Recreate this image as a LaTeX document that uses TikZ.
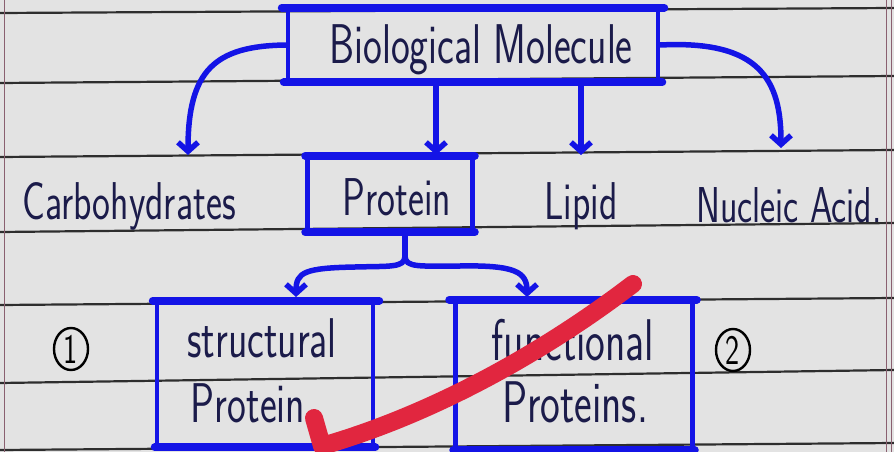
\documentclass[tikz,border=0pt]{standalone}
\usetikzlibrary{arrows.meta,shapes.geometric}
\definecolor{paper}{HTML}{E3E3E3}
\definecolor{rulec}{HTML}{2E2E2E}
\definecolor{ink}{HTML}{1B1B4A}
\definecolor{pen}{HTML}{1414E6}
\definecolor{markc}{HTML}{E1263F}
\definecolor{marginc}{HTML}{8A6070}
\newcommand{\hw}[2]{\scalebox{1}[1.4]{\fontsize{#1}{#1}\selectfont #2}}
\begin{document}
\begin{tikzpicture}[x=1pt,y=-1pt,
  box/.style={draw=pen, line width=4.5pt, inner sep=0pt},
  hand/.style={text=ink, font=\sffamily, inner sep=0pt},
  conn/.style={draw=pen, line width=5.5pt, line cap=round, -{Straight Barb[length=9pt,width=20pt]}},
  stem/.style={draw=pen, line width=5.5pt, line cap=round},
  edge/.style={draw=pen, line width=8pt, line cap=round},
  rl/.style={draw=rulec, line width=2.2pt},
  num/.style={text=black, inner sep=0pt, font=\sffamily},
  ring/.style={draw=black, line width=2.4pt}]
\useasboundingbox (0,0) rectangle (894,452);
\fill[paper] (0,0) rectangle (894,452);
% ruled lines
\draw[rl] (0,13) -- (894,8);
\draw[rl] (0,83) -- (894,76);
\draw[rl] (0,157) -- (894,150);
\draw[rl] (0,232) -- (894,223);
\draw[rl] (0,305) -- (894,298);
\draw[rl] (0,383) -- (894,370);
\draw[rl] (0,450) -- (894,443);
\draw[marginc, line width=1pt] (4,0) -- (4,452);
\draw[marginc, line width=1pt] (886,0) -- (886,452);
\draw[marginc, line width=0.8pt] (891,0) -- (891,452);

% boxes
\node[box, minimum width=370pt, minimum height=70pt] (bm) at (473,45) {};
\node[hand] (bmt) at (481,50) {\hw{40}{Biological Molecule}};
\draw[edge] ([xshift=-4pt]bm.north west) -- ([xshift=4pt]bm.north east);
\draw[edge] ([xshift=-2pt]bm.south west) -- ([xshift=2pt]bm.south east);

\node[box, minimum width=165pt, minimum height=72pt] (prot) at (390,194) {};
\node[hand] (prott) at (397,197) {\hw{38}{Protein}};
\draw[edge] (prot.north west) -- (prot.north east);
\draw[edge] (prot.south west) -- (prot.south east);

\node[hand] (carb) at (129,206) {\hw{38}{Carbohydrates}};
\node[hand] (lip) at (581,206) {\hw{38}{Lipid}};
\node[hand] (nuc) at (789,205) {\hw{36}{Nucleic Acid.}};

\node[box, minimum width=216pt, minimum height=142pt] (st) at (265,374) {};
\draw[edge] ([xshift=-2pt]st.north west) -- ([xshift=4pt]st.north east);
\draw[edge] (st.south west) -- (st.south east);
\node[hand] (st1) at (262,338) {\hw{40}{structural}};
\node[hand] (st2) at (248,403) {\hw{40}{Protein}};

\node[box, minimum width=237pt, minimum height=146pt] (fn) at (574,375) {};
\draw[edge] ([xshift=-4pt]fn.north west) -- ([xshift=2pt]fn.north east);
\draw[edge] (fn.south west) -- (fn.south east);
\node[hand] (fn1) at (573,340) {\hw{42}{functional}};
\node[hand] (fn2) at (575,402) {\hw{42}{Proteins.}};

\node[num] (n1) at (71,349) {\hw{30}{1}};
\node[num] (n2) at (733,350) {\hw{30}{2}};
\draw[ring] (n1.center) ellipse [x radius=17, y radius=21];
\draw[ring] (n2.center) ellipse [x radius=17, y radius=21];

% connectors
\coordinate (a1) at (188,155);
\coordinate (a2) at (436,155);
\coordinate (a3) at (581,155);
\coordinate (a4) at (781,148);
\draw[conn] (bm.west) .. controls (215,46) and (188,70) .. (a1);
\draw[conn] (bm.south -| a2) -- (a2);
\draw[conn] (bm.south -| a3) -- (a3);
\draw[conn] (bm.east) .. controls (760,40) and (781,80) .. (a4);

\coordinate (b0) at (405,256);
\coordinate (b1) at (296,297);
\coordinate (b2) at (527,297);
\draw[stem] (prot.south -| b0) -- (b0);
\draw[conn] (b0) .. controls (405,268) and (390,266) .. (355,267) .. controls (305,268) and (296,272) .. (b1);
\draw[conn] (b0) .. controls (405,268) and (420,266) .. (460,266) .. controls (515,265) and (527,272) .. (b2);

% red check mark
\draw[markc, line width=18pt, line cap=round, line join=round] (314,418) -- (322,446) .. controls (430,415) and (540,355) .. (633,284);
\end{tikzpicture}
\end{document}
